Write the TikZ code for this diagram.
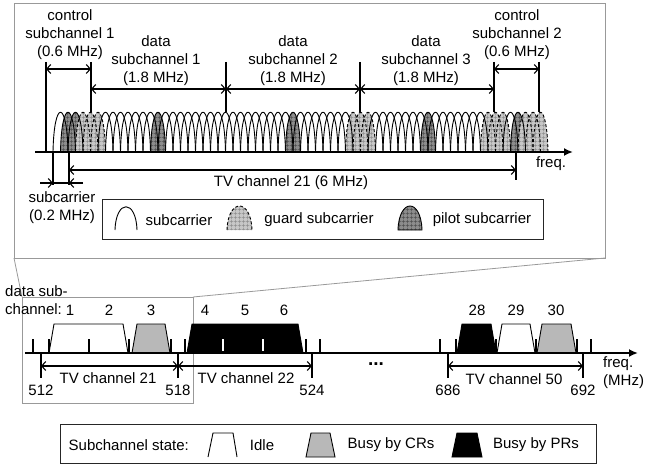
\documentclass[tikz,border=0pt]{standalone}
\usepackage{fontspec}
\setmainfont{Liberation Sans}
\usetikzlibrary{arrows.meta,patterns.meta}

% one subcarrier lobe starting at #1
\newcommand{\lobe}[1]{(#1,152) .. controls (#1+1,99) and (#1+14,99) .. (#1+15,152)}
% subchannel trapezoid on the lower axis
\newcommand{\trap}[2]{(#1,353) -- (#1+5,324) -- (#2-5,324) -- (#2,353)}

\tikzset{
  barb/.tip={Straight Barb[length=4pt,width=9pt]},
  lbl/.style={font=\fontsize{15}{18}\selectfont, inner sep=0pt, align=center},
  frame/.style={draw=black!40, line width=0.8pt, inner sep=0pt, outer sep=0pt},
  keybox/.style={draw=black!85, line width=0.8pt, inner sep=0pt, outer sep=0pt},
  bar/.style={line width=1.6pt},
  dim/.style={line width=1.1pt, {barb}-{barb}},
  axis/.style={line width=1.8pt, -{Latex[length=9pt,width=8pt]}},
  lobeline/.style={line width=0.9pt},
  guardline/.style={line width=0.9pt, dash pattern=on 3pt off 2pt},
  pilotfill/.style={fill=black!45, postaction={pattern={Hatch[angle=0,distance=4pt,line width=0.5pt]}, pattern color=black!70}},
  guardfill/.style={fill=black!22, postaction={pattern={Hatch[angle=0,distance=4pt,line width=0.5pt]}, pattern color=black!45}},
  idle/.style={draw, line width=0.9pt, fill=white},
  bycr/.style={draw, line width=0.9pt, fill=black!28},
  bypr/.style={draw, line width=0.9pt, fill=black},
}

\begin{document}
\begin{tikzpicture}[x=1pt,y=-1pt]
\useasboundingbox (0,0) rectangle (666,465);

% zoomed view of TV channel 21
\node[frame, minimum width=591pt, minimum height=255pt] (zoom) at (309.5,130.5) {};
\node[frame, minimum width=171pt, minimum height=106pt] (win) at (107.5,350) {};
\draw[frame] (zoom.south west) -- (win.north west);
\draw[frame] (zoom.south east) -- (win.north east);

% subchannel borders and widths
\draw[bar] (46,62) coordinate (c1) -- (46,152);
\foreach \x/\n in {91/d1,226/d2,360/d3,494/d4,539/c2}
  \draw[bar] (\x,62) coordinate (\n) -- (\x,112);
\draw[dim] ([yshift=-7pt]c1) -- ([yshift=-7pt]d1);
\draw[dim] ([yshift=-7pt]d4) -- ([yshift=-7pt]c2);
\draw[dim] ([yshift=-27pt]d1) -- ([yshift=-27pt]d2);
\draw[dim] ([yshift=-27pt]d2) -- ([yshift=-27pt]d3);
\draw[dim] ([yshift=-27pt]d3) -- ([yshift=-27pt]d4);
\node[lbl] (ctl1) at (70,35) {control\\subchannel 1\\(0.6 MHz)};
\node[lbl] (dat1) at (156,61) {data\\subchannel 1\\(1.8 MHz)};
\node[lbl] (dat2) at (293,61) {data\\subchannel 2\\(1.8 MHz)};
\node[lbl] (dat3) at (426,61) {data\\subchannel 3\\(1.8 MHz)};
\node[lbl] (ctl2) at (517,35) {control\\subchannel 2\\(0.6 MHz)};

% subcarrier lobes
\foreach \k in {1,2,13,31,49,61}
  \fill[pilotfill] \lobe{53+7.5*\k} -- cycle;
\foreach \k in {3,4,5,39,40,41,57,58,59,62,63,64}
  \fill[guardfill] \lobe{53+7.5*\k} -- cycle;
\foreach \k in {0,...,64}{
  \pgfmathtruncatemacro\g{(\k>2)*(\k<6)+(\k>38)*(\k<42)+(\k>56)*(\k!=60)*(\k!=61)}
  \ifnum\g>0 \def\st{guardline}\else\def\st{lobeline}\fi
  \draw[\st] \lobe{53+7.5*\k};
}
\draw[axis] (35,152) -- (573,152);
\node[lbl] (f1) at (551,164) {freq.};

% one subcarrier and the whole channel
\draw[bar] (53,152) -- (53,185);
\draw[bar] (69,152) -- (69,185);
\coordinate (w1) at (53,183);
\coordinate (w2) at (69,183);
\draw[line width=1.1pt, -{barb}] ([xshift=-13pt]w1) -- (w1);
\draw[line width=1.1pt, -{barb}] ([xshift=14pt]w2) -- (w2);
\draw[line width=1.1pt] (w1) -- (w2);
\node[lbl] (scw) at (62,208) {subcarrier\\(0.2 MHz)};
\draw[bar] (516,152) -- (516,180);
\draw[dim] (69,170) coordinate (t1) -- (516,170) coordinate (t2);
\node[lbl] (tv21) at (291,183) {TV channel 21 (6 MHz)};

% legend of the zoomed view
\node[keybox, minimum width=441pt, minimum height=40pt] (key1) at (322.5,219) {};
\draw[lobeline] (115,230) .. controls (116,199) and (136,199) .. (137,230);
\node[lbl] (k1a) at (179,220) {subcarrier};
\fill[guardfill] (227,230) .. controls (228,198) and (251,198) .. (252,230) -- cycle;
\draw[guardline] (227,230) .. controls (228,198) and (251,198) .. (252,230);
\node[lbl] (k1b) at (319,220) {guard subcarrier};
\fill[pilotfill] (398,230) .. controls (399,198) and (421,198) .. (422,230) -- cycle;
\draw[lobeline] (398,230) .. controls (399,198) and (421,198) .. (422,230) -- cycle;
\node[lbl] (k1c) at (482,220) {pilot subcarrier};

% spectrum with subchannel states
\draw[idle] \trap{49}{128};
\draw[bycr] \trap{132}{170};
\draw[bypr] \trap{187}{303};
\draw[bypr] \trap{457}{496};
\draw[idle] \trap{497}{535};
\draw[bycr] \trap{537}{576};
\foreach \x in {33,49,89,129,171,185,306,320,440,456,496,536,577,591}
  \draw[line width=1.3pt] (\x,339) -- (\x,353);
\foreach \x in {223,263}
  \draw[line width=1.3pt, white] (\x,339) -- (\x,351);
\draw[axis] (25,353) -- (638,353);
\node[lbl, anchor=west, align=left] (f2) at (603,373) {freq.\\(MHz)};

\foreach \x/\f [count=\i] in {41/512,178/518,312/524,448/686,583/692}
  \draw[bar] (\x,353) -- (\x,378) coordinate (e\i) node[lbl, below=6pt] (n\i) {\f};
\draw[dim] ([yshift=12pt]e1) -- ([yshift=12pt]e2);
\draw[dim] ([yshift=12pt]e2) -- ([yshift=12pt]e3);
\draw[dim] ([yshift=12pt]e4) -- ([yshift=12pt]e5);
\node[lbl] (tv21b) at (108,378) {TV channel 21};
\node[lbl] (tv22) at (246,378) {TV channel 22};
\node[lbl] (tv50) at (514,379) {TV channel 50};
\node[lbl, font=\fontsize{19}{19}\bfseries] (dots) at (376,364) {...};

\node[lbl, anchor=west, align=left] (dsc) at (5,300) {data sub-\\channel:};
\foreach \x/\n in {70/1,109/2,151/3,205/4,245/5,284/6,477/28,516/29,556/30}
  \node[lbl] (sc\n) at (\x,310) {\n};

% legend of the states
\node[keybox, minimum width=536pt, minimum height=39pt] (key2) at (328,443.5) {};
\node[lbl, anchor=east] (k2) at (189,445) {Subchannel state:};
\draw[line width=0.9pt] (208,457) -- (213,433) -- (233,433) -- (237,457);
\node[lbl] (k2a) at (262,445) {Idle};
\draw[bycr] (306,457) -- (311,433) -- (330,433) -- (335,457) -- cycle;
\node[lbl] (k2b) at (391,445) {Busy by CRs};
\draw[bypr] (452,457) -- (457,433) -- (477,433) -- (482,457) -- cycle;
\node[lbl] (k2c) at (536,445) {Busy by PRs};
\end{tikzpicture}
\end{document}
